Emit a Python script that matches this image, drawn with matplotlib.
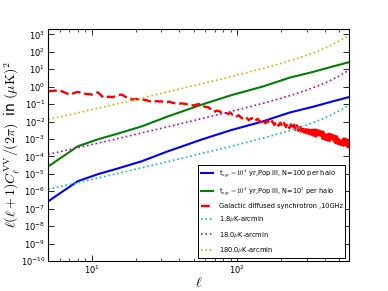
import numpy as np
import matplotlib
matplotlib.use('Agg')
import matplotlib.pyplot as plt

plt.rcParams['mathtext.fontset'] = 'cm'

# multipoles and signal curves
ell_sig = [5, 8, 11, 15, 22, 33, 45, 56, 90, 150, 230, 330, 450, 585]
blue_pop3_n100 = [2.63e-7, 3.80e-6, 9.55e-6, 2.00e-5, 5.25e-5, 1.91e-4, 4.68e-4,
                  8.91e-4, 3.16e-3, 1.02e-2, 3.31e-2, 6.92e-2, 0.141, 0.251]
green_pop3_n1000 = [2.63e-5, 3.80e-4, 9.55e-4, 2.00e-3, 5.25e-3, 1.91e-2, 4.68e-2,
                    8.91e-2, 0.316, 1.02, 3.31, 6.92, 14.1, 25.1]

# noise curves
ell_noise = [5, 8, 10, 15, 20, 30, 50, 80, 100, 150, 200, 250, 300, 350, 400, 450, 500, 550, 585]
noise_1p8 = [1.31e-6, 3.14e-6, 4.80e-6, 1.05e-5, 1.84e-5, 4.07e-5, 1.13e-4, 2.92e-4, 4.65e-4,
             1.11e-3, 2.16e-3, 3.79e-3, 6.31e-3, 1.02e-2, 1.61e-2, 2.55e-2, 4.03e-2, 6.41e-2, 8.93e-2]
noise_18 = [1.31e-4, 3.14e-4, 4.80e-4, 1.05e-3, 1.84e-3, 4.07e-3, 1.13e-2, 2.92e-2, 4.65e-2,
            0.111, 0.216, 0.379, 0.631, 1.02, 1.61, 2.55, 4.03, 6.41, 8.93]
noise_180 = [1.31e-2, 3.14e-2, 4.80e-2, 0.105, 0.184, 0.407, 1.13, 2.92, 4.65,
             11.1, 21.6, 37.9, 63.1, 102, 161, 255, 403, 641, 893]

# galactic synchrotron, stored as log10 values
ell_sync = (list(range(5, 31)) + list(range(32, 61, 2)) + list(range(63, 100, 3))
            + list(range(102, 583, 6)))
sync_log = [-0.26, -0.21, -0.45, -0.30, -0.41, -0.45, -0.33, -0.62, -0.58, -0.60,
            -0.50, -0.45, -0.58, -0.64, -0.74, -0.70, -0.73, -0.72, -0.76, -0.79,
            -0.84, -0.88, -0.86, -0.83, -0.85, -0.84,
            -0.90, -0.86, -0.93, -0.95, -0.97, -0.96, -1.00, -1.02, -1.05, -1.08,
            -1.04, -1.00, -1.02, -1.10, -1.16,
            -1.18, -1.30, -1.45, -1.38, -1.40, -1.48, -1.45, -1.52, -1.56, -1.50,
            -1.62, -1.60, -1.70,
            -1.64, -1.82, -1.72, -1.92, -1.80, -1.98, -1.84, -2.04, -1.90, -2.10,
            -1.94, -2.14, -1.98, -2.20, -2.02, -2.24, -2.06, -2.28, -2.08, -2.32,
            -2.12, -2.38, -2.16, -2.44, -2.18, -2.48, -2.22, -2.54, -2.24, -2.58,
            -2.28, -2.64, -2.30, -2.68, -2.34, -2.72, -2.38, -2.76, -2.40, -2.82,
            -2.46, -2.86, -2.48, -2.90, -2.52, -2.94, -2.56, -2.98, -2.58, -3.02,
            -2.62, -3.06, -2.66, -3.08, -2.70, -3.12, -2.72, -3.14, -2.76, -3.18,
            -2.80, -3.20, -2.84, -3.24, -2.86, -3.28, -2.90, -3.30, -2.94, -3.34,
            -2.96, -3.36, -2.98, -3.38, -2.98, -3.42, -3.00, -3.46, -3.04, -3.48,
            -3.06]
sync = 10 ** np.array(sync_log)

fig = plt.figure(figsize=(3.88, 2.91), dpi=100)
ax = fig.add_axes([0.124, 0.103, 0.775, 0.797])

ax.plot(ell_sig, blue_pop3_n100, color='b', lw=1.5,
        label=r't$_{\rm age}=10^4$ yr,Pop III, N=100 per halo')
ax.plot(ell_sig, green_pop3_n1000, color='g', lw=1.5,
        label=r't$_{\rm age}=10^4$ yr,Pop III, N=10$^3$ per halo')
ax.plot(ell_sync, sync, color='r', lw=1.7, ls='--',
        label='Galactic diffused synchrotron ,10GHz')
ax.plot(ell_noise, noise_1p8, color='c', lw=1.2, ls=':', label=r'1.8$\mu$K-arcmin')
ax.plot(ell_noise, noise_18, color='m', lw=1.2, ls=':', label=r'18.0$\mu$K-arcmin')
ax.plot(ell_noise, noise_180, color='y', lw=1.2, ls=':', label=r'180.0$\mu$K-arcmin')

ax.set_xscale('log')
ax.set_yscale('log')
ax.set_xlim(5, 585)
ax.set_ylim(1e-10, 2e3)
ax.set_yticks([10.0 ** k for k in range(-10, 4)])
ax.yaxis.set_minor_locator(matplotlib.ticker.NullLocator())
ax.tick_params(which='both', direction='in', top=True, right=True, labelsize=6)
ax.tick_params(which='major', length=4, width=0.6, pad=2)
ax.tick_params(which='minor', length=2, width=0.5)
for s in ax.spines.values():
    s.set_linewidth(0.8)

ax.set_xlabel(r'$\ell$', fontsize=10)
ax.xaxis.set_label_coords(0.5, -0.06)
ax.set_ylabel(r'$\ell(\ell+1)C_\ell^{\rm VV}/(2\pi)\;$ in $(\mu{\rm K})^2$', fontsize=10)
ax.yaxis.set_label_coords(-0.088, 0.5)

leg = ax.legend(loc='lower right', fontsize=4.8, handlelength=1.8, handletextpad=0.9,
                fancybox=False, edgecolor='black', framealpha=1, borderaxespad=0.5,
                labelspacing=0.8)
leg.get_frame().set_linewidth(0.7)

plt.savefig('out.png', dpi=100)
